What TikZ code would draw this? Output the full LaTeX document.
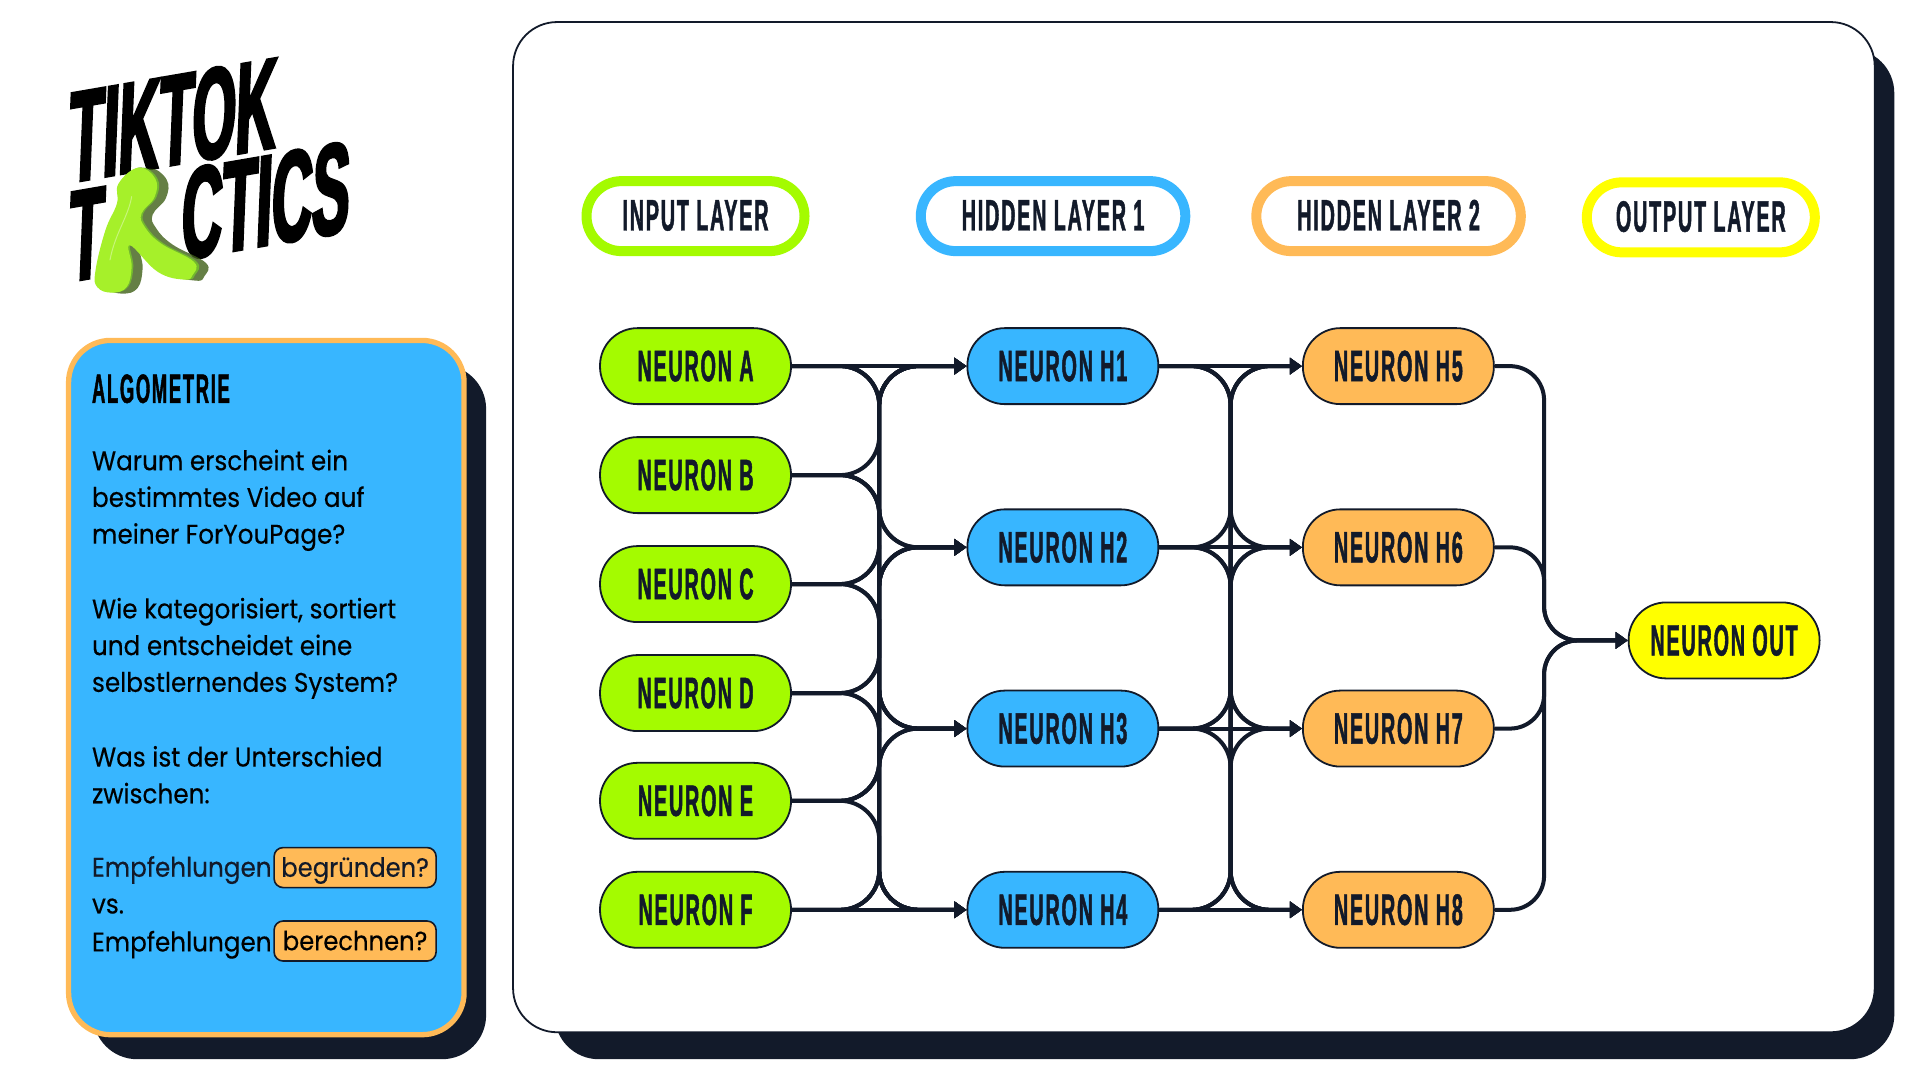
\documentclass[tikz,border=0pt]{standalone}
\usepackage{fontspec}
\usetikzlibrary{arrows.meta,positioning,calc}
\setmainfont{Poppins}
\newfontfamily\bodyf[FakeStretch=0.915,FakeBold=0.3]{Poppins}
\newfontfamily\neuronf[FakeStretch=0.45,FakeBold=1.0,LetterSpace=4]{Liberation Sans Bold}
\newfontfamily\logof[FakeStretch=0.43,FakeBold=2.2]{Liberation Sans Bold}
\definecolor{ink}{HTML}{121A2A}
\definecolor{lime}{HTML}{A4FB00}
\definecolor{sky}{HTML}{38B6FF}
\definecolor{amber}{HTML}{FFBA57}
\definecolor{lemon}{HTML}{FFFF00}
\definecolor{blobshade}{HTML}{3F5F17}
\definecolor{blobedge}{HTML}{73B82E}
\definecolor{blobmain}{HTML}{A6F02A}
\definecolor{blobhi}{HTML}{C8F57A}
\tikzset{
  neuron/.style={draw=ink,line width=1.8pt,minimum width=191pt,minimum height=76pt,inner sep=0pt,rounded corners=37.5pt,text=ink,text height=31.7pt,text depth=1.5pt,font=\neuronf\fontsize{44}{44}\selectfont},
  layerpill/.style={fill=white,line width=10pt,minimum height=70pt,inner sep=0pt,rounded corners=35pt,text=ink,text height=31.7pt,text depth=3pt,font=\neuronf\fontsize{44}{44}\selectfont},
  straightconn/.style={draw=ink,line width=4pt,-{Triangle[length=12pt,width=16pt]}},
  conn/.style={straightconn,rounded corners=39pt},
  outconn/.style={straightconn,rounded corners=34pt},
  body/.style={anchor=base west,inner sep=0pt,font=\bodyf\fontsize{27}{27}\selectfont,text=black},
  tag/.style={draw=ink,line width=1.6pt,fill=amber,rounded corners=9pt,minimum width=162pt,minimum height=40pt,inner sep=0pt,text height=24.4pt,text depth=6pt,font=\bodyf\fontsize{26.5}{27}\selectfont},
  logotxt/.style={anchor=base west,inner sep=0pt,font=\logof\fontsize{130}{130}\selectfont,text=black,transform shape},
}
\begin{document}
\begin{tikzpicture}[x=1.2245pt,y=-1.2245pt]
\useasboundingbox (0,0) rectangle (1568,882);
% cards
\fill[ink,rounded corners=44pt] (453,40) rectangle (1547,865);
\draw[ink,fill=white,line width=1.8pt,rounded corners=44pt] (419,18) rectangle (1531,843);
\fill[ink,rounded corners=44pt] (76,298) rectangle (397,865);
\draw[amber,fill=sky,line width=5.3pt,rounded corners=42pt] (56,278) rectangle (379,845);
% logo
\begin{scope}[x=0.3333pt,y=-0.3333pt]
\begin{scope}[shift={(203,549)},cm={1,0.172,0.04,1,(0,0)}]
\node[logotxt] (logoa) at (0,0) {TIKTOK};
\end{scope}
\begin{scope}[shift={(203,846)},cm={1,0.172,0.04,1,(0,0)}]
\node[logotxt] (logob) at (0,0) {T};
\end{scope}
\begin{scope}[shift={(541,780)},cm={1,0.172,0.04,1,(0,0)}]
\node[logotxt] (logoc) at (0,0) {CTICS};
\end{scope}
\def\blob{plot[smooth cycle,tension=.7] coordinates{(420,502)(472,535)(470,590)(430,640)(440,680)(490,730)(590,785)(585,825)(560,838)(480,815)(395,735)(400,800)(385,860)(340,877)(295,860)(290,810)(320,690)(355,610)(360,550)}}
\fill[blobshade,opacity=.8,shift={(28,4)}] \blob;
\fill[blobedge] \blob;
\fill[blobmain,xscale=0.985,shift={(1,1)}] \blob;
\draw[blobhi,line width=1pt,line cap=round] (395,590) .. controls (385,650) and (345,700) .. (330,780);
\end{scope}
% side text
\node[anchor=base west,inner sep=0pt,text=black,font=\neuronf\fontsize{41}{41}\selectfont] (title) at (75,329) {ALGOMETRIE};
\node[body] (t1) at (75,384) {Warum erscheint ein};
\node[body] (t2) at (75,414) {bestimmtes Video auf};
\node[body] (t3) at (75,444) {meiner ForYouPage?};
\node[body] (t4) at (75,505) {Wie kategorisiert, sortiert};
\node[body] (t5) at (75,535) {und entscheidet eine};
\node[body] (t6) at (75,565) {selbstlernendes System?};
\node[body] (t7) at (75,626) {Was ist der Unterschied};
\node[body] (t8) at (75,656) {zwischen:};
\node[body,text=ink] (t9) at (75,716) {Empfehlungen};
\node[body] (t10) at (75,746) {vs.};
\node[body] (t11) at (75,777) {Empfehlungen};
\node[tag,text=ink] (tagA) at (290,708.5) {begründen?};
\node[tag,text=black] (tagB) at (290,768.5) {berechnen?};
% layer headers
\node[layerpill,draw=lime,minimum width=218pt] (L1) at (568,176.5) {INPUT LAYER};
\node[layerpill,draw=sky,minimum width=264.5pt] (L2) at (860,176.5) {HIDDEN LAYER 1};
\node[layerpill,draw=amber,minimum width=264.5pt] (L3) at (1134,176.5) {HIDDEN LAYER 2};
\node[layerpill,draw=lemon,minimum width=228pt] (L4) at (1389,177.5) {OUTPUT LAYER};
% neurons
\foreach \n/\lbl/\yy in {A/A/299,B/B/388,C/C/477,D/D/566,E/E/654,F/F/743}
  \node[neuron,fill=lime] (\n) at (568,\yy) {NEURON \lbl};
\foreach \n/\yy in {H1/299,H2/447,H3/595,H4/743}
  \node[neuron,fill=sky] (\n) at (868,\yy) {NEURON \n};
\foreach \n/\yy in {H5/299,H6/447,H7/595,H8/743}
  \node[neuron,fill=amber] (\n) at (1142,\yy) {NEURON \n};
\node[neuron,fill=lemon] (OUT) at (1408,523) {NEURON OUT};
% buses
\coordinate (bus1) at (718,0);
\coordinate (bus2) at (1005,0);
\coordinate (bus3) at (1261,0);
\foreach \a/\i in {A/1,B/0,C/0,D/0,E/0,F/4}
  \foreach \b/\j in {H1/1,H2/2,H3/3,H4/4}{
    \ifnum\i=\j
      \draw[straightconn] (\a.east) -- (\b.west);
    \else
      \draw[conn] (\a.east) -- (\a.east -| bus1) -- (\b.west -| bus1) -- (\b.west);
    \fi
  }
\foreach \a/\i in {H1/1,H2/2,H3/3,H4/4}
  \foreach \b/\j in {H5/1,H6/2,H7/3,H8/4}{
    \ifnum\i=\j
      \draw[straightconn] (\a.east) -- (\b.west);
    \else
      \draw[conn] (\a.east) -- (\a.east -| bus2) -- (\b.west -| bus2) -- (\b.west);
    \fi
  }
\foreach \a in {H5,H6,H7,H8}
  \draw[outconn] (\a.east) -- (\a.east -| bus3) -- (OUT.west -| bus3) -- (OUT.west);
\end{tikzpicture}
\end{document}
